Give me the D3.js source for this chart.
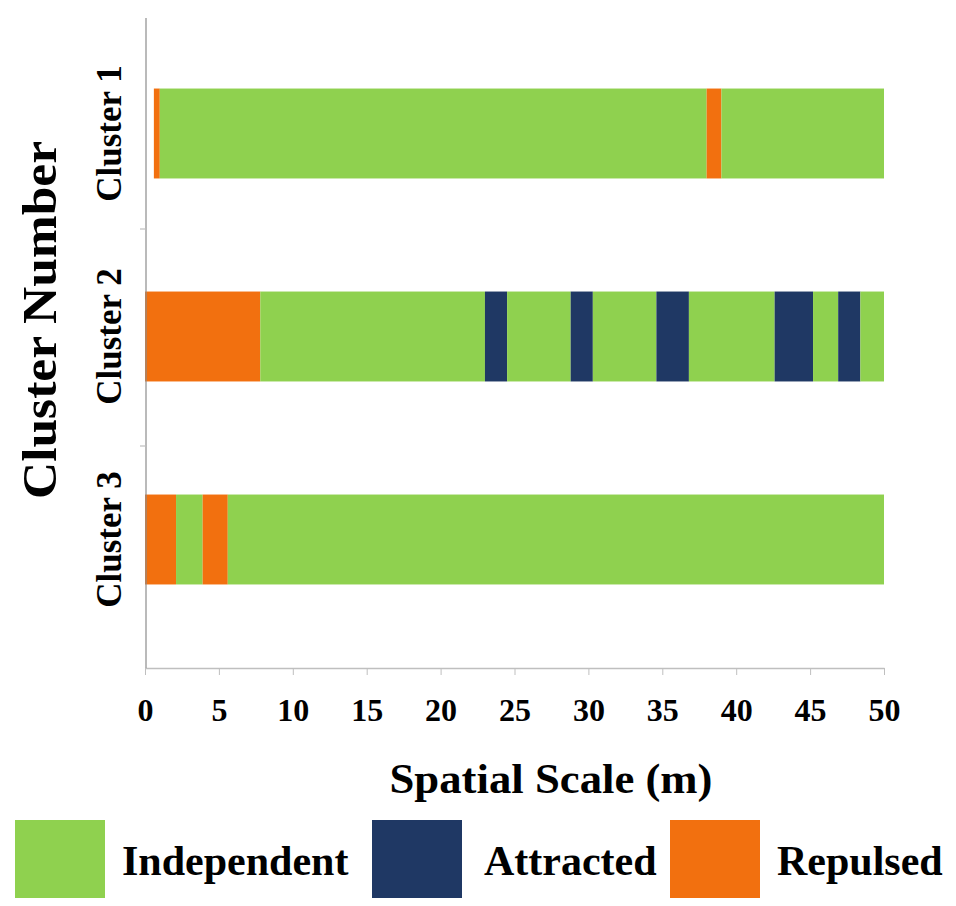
<!DOCTYPE html>
<html>
<head>
<meta charset="utf-8">
<script src="https://cdn.jsdelivr.net/npm/d3@7"></script>
<style>
  html, body { margin: 0; padding: 0; background: #fff; }
  svg { display: block; }
  text { font-family: "Liberation Serif", "Times New Roman", serif; font-weight: bold; fill: #000; }
</style>
</head>
<body>
<svg id="chart" width="956" height="906"></svg>
<script>
// ---- data ----
const clusters = ["Cluster 1", "Cluster 2", "Cluster 3"];
const categories = ["Independent", "Attracted", "Repulsed"];
const xTicks = [0, 5, 10, 15, 20, 25, 30, 35, 40, 45, 50];
// segments: [start, end, category]
const segCluster1 = [[0.6, 1.0, "Repulsed"], [1.0, 38.0, "Independent"], [38.0, 39.0, "Repulsed"], [39.0, 50, "Independent"]];
const segCluster2 = [[0, 7.8, "Repulsed"], [7.8, 23.0, "Independent"], [23.0, 24.5, "Attracted"], [24.5, 28.8, "Independent"],
  [28.8, 30.3, "Attracted"], [30.3, 34.6, "Independent"], [34.6, 36.8, "Attracted"], [36.8, 42.6, "Independent"],
  [42.6, 45.2, "Attracted"], [45.2, 46.9, "Independent"], [46.9, 48.4, "Attracted"], [48.4, 50, "Independent"]];
const segCluster3 = [[0, 2.1, "Repulsed"], [2.1, 3.9, "Independent"], [3.9, 5.6, "Repulsed"], [5.6, 50, "Independent"]];
const segments = [segCluster1, segCluster2, segCluster3];

const colors = { Independent: "#8fd14f", Attracted: "#1f3864", Repulsed: "#f2700f" };

const svg = d3.select("#chart");
const x = d3.scaleLinear().domain([0, 50]).range([145, 884]);
const y = d3.scaleBand().domain(clusters).range([32, 641]).paddingInner(0.557).paddingOuter(0.2785);
const axisY = 668;

// bars
clusters.forEach((c, i) => {
  svg.append("g").selectAll("rect")
    .data(segments[i])
    .join("rect")
    .attr("x", d => x(d[0]))
    .attr("width", d => x(d[1]) - x(d[0]))
    .attr("y", y(c))
    .attr("height", y.bandwidth())
    .attr("fill", d => colors[d[2]]);
});

// x axis
const xAxis = d3.axisBottom(x).tickValues(xTicks).tickSize(7).tickSizeOuter(0);
const gx = svg.append("g").attr("transform", `translate(0,${axisY})`).call(xAxis);
gx.select(".domain").attr("stroke", "#bfbfbf").attr("stroke-width", 1.5);
gx.selectAll(".tick line").attr("stroke", "#bfbfbf");
gx.selectAll(".tick text")
  .attr("y", 53).attr("dy", 0)
  .style("font-family", '"Liberation Serif", serif')
  .style("font-weight", "bold")
  .style("font-size", "32px")
  .attr("fill", "#000");

// y axis line
svg.append("line").attr("x1", 146).attr("x2", 146).attr("y1", 18).attr("y2", axisY)
  .attr("stroke", "#8c8c8c").attr("stroke-width", 1.2);
// category separator ticks
const sepY = [y(clusters[0]) + y.bandwidth() + y.step() * y.paddingInner() / 2 - 6,
              y(clusters[1]) + y.bandwidth() + y.step() * y.paddingInner() / 2 + 8];
svg.selectAll(".sep").data(sepY).join("line")
  .attr("x1", 140).attr("x2", 146).attr("y1", d => d).attr("y2", d => d)
  .attr("stroke", "#bfbfbf").attr("stroke-width", 1.2);

// cluster labels
clusters.forEach(c => {
  const cy = y(c) + y.bandwidth() / 2;
  svg.append("text")
    .attr("transform", `translate(121,${cy}) rotate(-90)`)
    .attr("text-anchor", "middle")
    .style("font-size", "35px")
    .text(c);
});

// axis titles
svg.append("text")
  .attr("transform", "translate(56,320) rotate(-90)")
  .attr("text-anchor", "middle")
  .style("font-size", "48px")
  .attr("textLength", 358).attr("lengthAdjust", "spacingAndGlyphs")
  .text("Cluster Number");

svg.append("text")
  .attr("x", 551).attr("y", 793)
  .attr("text-anchor", "middle")
  .style("font-size", "42px")
  .attr("textLength", 323).attr("lengthAdjust", "spacingAndGlyphs")
  .text("Spatial Scale (m)");

// legend
const legendPos = [
  { sx: 15, tx: 122 },
  { sx: 372, tx: 484 },
  { sx: 670, tx: 777 }
];
categories.forEach((c, i) => {
  svg.append("rect")
    .attr("x", legendPos[i].sx).attr("y", 820)
    .attr("width", 90).attr("height", 78)
    .attr("fill", colors[c]);
  svg.append("text")
    .attr("x", legendPos[i].tx).attr("y", 875)
    .style("font-size", "42px")
    .text(c);
});
</script>
</body>
</html>
